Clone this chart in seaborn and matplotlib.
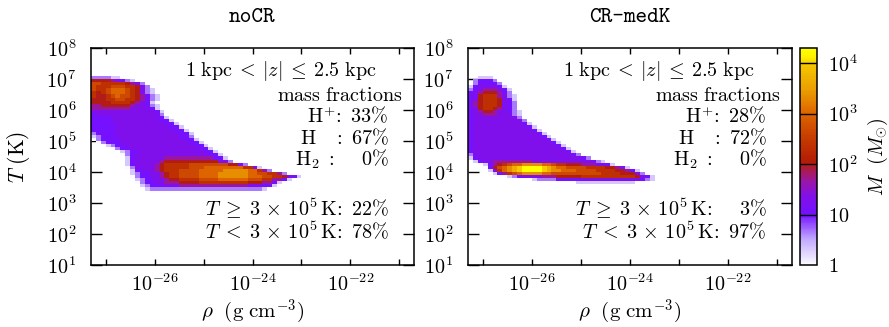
import numpy as np
import pandas as pd
import matplotlib
matplotlib.use("Agg")
import matplotlib.pyplot as plt
import seaborn as sns
from matplotlib.colors import LinearSegmentedColormap, LogNorm
from matplotlib.ticker import FixedLocator, FixedFormatter, NullLocator

# ---------------- data ----------------
# histogram bin centres: log10(rho / g cm^-3) (columns) and log10(T / K) (rows, top->bottom)
log_rho = np.round(np.arange(-27.25, -22.9, 0.1), 2)     # 44 columns
log_T = np.round(np.arange(7.05, 3.3, -0.1), 2)          # 38 rows

# mass per cell, one hex digit per cell: v -> M = 10**(v/3) Msun ; '.' = empty
noCR_levels = [
    "222211",
    "666654321",
    "88777776542",
    "877788877642",
    "8778999876421",
    "7678999876421",
    "76678988765321",
    "66677887765321",
    "6666777765431",
    "55666666544321",
    "55555555444431",
    "4444444444444" "3" "1",
    "3" "4444444444444" "2",
    "3333" "444444444" "33" "1",
    "3333" "4444444444" "33" "1",
    "33333" "4444444444" "33" "1",
    "33333" "44444444444" "33" "1",
    "33333" "444444444444" "33" "1",
    "2" "3333" "4444444444444" "33" "1",
    "1" "2" "333" "4444444444444" "33" "2",
    "0" "2" "3333" "4444444444444" "33" "1",
    "." "0" "2" "333" "44444444444444" "33" "1",
    "..." "1" "2" "33" "44444444444444" "33" "1",
    "...." "0" "2" "33" "44444444444444" "33" "1",
    "......" "1" "2" "33" "4444444444444" "33" "1",
    "......" "0" "2" "3" "444444444444444" "33" "1",
    "......." "1" "3" "444444" "5555555555" "33" "1",
    "......." "1" "3" "44444" "5" "66666666666" "44" "2",
    "......." "1" "3" "4444" "5" "6" "77777" "88888888" "66" "4" "2",
    "......." "0" "2" "4444" "5" "6" "77777" "888" "99999999" "77" "4" "1",
    "........" "1" "33" "44" "5" "6" "777" "8888" "99999" "aaaaa" "99" "7" "5" "2",
    "........" "1" "2" "33" "44" "5" "6" "77" "8888" "9999" "aaaaaa" "99" "88" "77" "5" "2",
    "........" "0" "2" "33" "44" "5" "6" "77" "8888" "9999" "aaaaaa" "999" "88" "77" "6" "4" "3" "1",
    "........." "1" "2" "33" "44" "5" "66" "7777" "8888" "999999" "888" "77" "55" "3" "1",
    "........." "0" "2" "33" "44" "555" "6666" "7777777777" "666" "55" "3" "1",
    ".........." "1" "2" "333" "444" "55555555555555" "444" "33" "1",
    "..........." "1" "22222222222222222222222" "1",
    "",
]
CRmedK_levels = [
    "..111",
    ".23332",
    ".233332",
    "13444431",
    "234555431",
    "345666532",
    "3467775421",
    "3467776431",
    "3567776432",
    "3567776432",
    "3467765432",
    "34566544321",
    "34455544421",
    "3" "444444444" "2",
    "3" "4444444444" "2",
    "3" "4444444444" "3" "1",
    "3" "44444444444" "3" "1",
    "3" "444444444444" "3" "1",
    "3" "4444444444444" "3" "1",
    "3" "44444444444444" "3" "1",
    "3" "444444444444444" "3" "1",
    "3" "4444444444444444" "3" "1",
    "3" "44444444444444444" "3" "1",
    "3" "444444444444444444" "3" "1",
    "3" "4444444444444444444" "3" "1",
    "2" "44444444444444444444" "3" "2",
    "1" "3" "444444444444444444444" "3" "2",
    ".13" "44" "55555555" "444444444444" "3" "2" "1",
    "..." "1" "3" "5" "6" "7" "8" "99" "aaaa" "99" "8" "77" "666" "555" "44" "3" "1",
    "..." "0" "3" "6" "8" "9" "a" "b" "c" "dddd" "c" "b" "a" "99" "8888" "7777" "66" "5" "3" "1",
    "...." "1" "4" "7" "9" "a" "b" "c" "dddd" "c" "b" "aa" "999" "8888" "7777" "66" "5" "3" "1",
    "....." "1" "3" "5" "7" "8" "9" "aaaa" "99" "8888" "888888" "7777" "666" "4" "2",
    "........" "1" "2" "3" "4444" "555" "66666" "7777777" "7777" "6" "4" "3" "1",
    "............." "1" "2222" "33333" "444444" "444444" "3" "2" "1",
    "......................" "111111111111",
    "",
    "",
    "",
]

titles = ["noCR", "CR-medK"]
ion_fracs = [[33, 67, 0], [28, 72, 0]]          # H+, H, H2 (%)
hot_fracs = [[22, 78], [3, 97]]                 # T>=3e5 K, T<3e5 K (%)

cbar_ticks = [1, 10, 100, 1000, 10000]
cbar_labels = [r"$1$", r"$10$", r"$10^{2}$", r"$10^{3}$", r"$10^{4}$"]
M_min, M_max = 1.0, 2.0e4

# ---------------- style ----------------
sns.set_theme(style="ticks")
plt.rcParams.update({
    "font.family": ["DejaVu Serif"],
    "mathtext.fontset": "cm",
    "font.size": 14,
    "axes.linewidth": 1.0,
    "axes.edgecolor": "black",
    "text.color": "black",
    "xtick.color": "black",
    "ytick.color": "black",
})

L = np.log10(M_max)
cmap = LinearSegmentedColormap.from_list("phase", [
    (0.0 / L, "#fcfaff"),
    (0.5 / L, "#c2aaff"),
    (1.0 / L, "#7410ff"),
    (1.35 / L, "#8010ea"),
    (1.65 / L, "#9a16a8"),
    (1.95 / L, "#b01c30"),
    (2.05 / L, "#b41c04"),
    (2.5 / L, "#c43a00"),
    (3.0 / L, "#de6400"),
    (3.5 / L, "#eba000"),
    (4.0 / L, "#f6c800"),
    (4.12 / L, "#fff000"),
    (1.0, "#ffff00"),
])

x_edges = np.append(log_rho - 0.05, log_rho[-1] + 0.05)
y_sorted = np.sort(log_T)
y_edges = np.append(y_sorted - 0.05, y_sorted[-1] + 0.05)


def to_frame(levels):
    recs = []
    for lt, row in zip(log_T, levels):
        row = row.ljust(len(log_rho), ".")
        for lr, ch in zip(log_rho, row):
            if ch != ".":
                recs.append((10.0 ** lr, 10.0 ** lt, 10.0 ** (int(ch, 16) / 3.0)))
    return pd.DataFrame(recs, columns=["rho", "T", "M"])


W, H = 889, 327
fig = plt.figure(figsize=(W / 100, H / 100), dpi=100)
ax_pos = [(91, 48, 414, 265), (468, 48, 792, 265)]
cax = fig.add_axes([800 / W, 1 - 265 / H, 17 / W, 217 / H])

mesh = None
for i, (levels, title) in enumerate(zip([noCR_levels, CRmedK_levels], titles)):
    x0, y0, x1, y1 = ax_pos[i]
    ax = fig.add_axes([x0 / W, 1 - y1 / H, (x1 - x0) / W, (y1 - y0) / H])
    df = to_frame(levels)
    sns.histplot(data=df, x="rho", y="T", weights="M", bins=[x_edges, y_edges],
                 log_scale=(True, True), cmap=cmap, ax=ax)
    mesh = ax.collections[0]
    mesh.set_norm(LogNorm(vmin=M_min, vmax=M_max))
    ax.set_xlim(10 ** -27.3, 10 ** -20.7)
    ax.set_ylim(1e1, 1e8)
    ax.set_xlabel("")
    ax.set_ylabel("")
    xt = list(range(-27, -20))
    ax.xaxis.set_major_locator(FixedLocator([10.0 ** k for k in xt]))
    ax.xaxis.set_major_formatter(FixedFormatter(
        [r"$10^{%d}$" % k if k % 2 == 0 else "" for k in xt]))
    yt = list(range(1, 9))
    ax.yaxis.set_major_locator(FixedLocator([10.0 ** k for k in yt]))
    ax.yaxis.set_major_formatter(FixedFormatter([r"$10^{%d}$" % k for k in yt]))
    ax.xaxis.set_minor_locator(NullLocator())
    ax.yaxis.set_minor_locator(NullLocator())
    ax.tick_params(axis="both", which="major", direction="in", top=True, right=True,
                   labelsize=14.5)
    ax.tick_params(axis="x", length=4.5, width=1.0, pad=6)
    ax.tick_params(axis="y", length=8.0, width=1.0, pad=10.5)
    for s in ax.spines.values():
        s.set_linewidth(1.1)
        s.set_color("black")

    fs = 14.5
    kw = dict(transform=ax.transAxes, ha="right", va="center", fontsize=fs)
    ax.text(0.885, 0.894, r"$1\ \mathrm{kpc}\:<\:|z|\:\leq\:2.5\ \mathrm{kpc}$", **kw)
    ax.text(0.963, 0.783, r"$\mathrm{mass\ fractions}$", **kw)
    hp, hn, h2 = ion_fracs[i]
    ax.text(0.922, 0.682, r"$\mathrm{H}^{+}\!:\ %d\%%$" % hp, **kw)
    ax.text(0.922, 0.585, r"$\mathrm{H}\ \ \ :\ %d\%%$" % hn, **kw)
    ax.text(0.922, 0.488, r"$\mathrm{H}_{2}\ :\ \ \ \ %d\%%$" % h2, **kw)
    hot, cold = hot_fracs[i]
    sp = r"\ \ \ \ " if hot < 10 else r"\ "
    ax.text(0.922, 0.258,
            r"$T\;\geq\;3\,\times\,10^{5}\,\mathrm{K}\!:%s%d\%%$" % (sp, hot), **kw)
    ax.text(0.922, 0.152,
            r"$T\;<\;3\,\times\,10^{5}\,\mathrm{K}\!:\ %d\%%$" % cold, **kw)

    xc = (x0 + x1) / 2
    fig.text(xc / W, 1 - 17 / H, title, family="cmtt10", fontsize=16,
             ha="center", va="center")
    fig.text(xc / W, 1 - 312 / H, r"$\rho\ \ (\mathrm{g\ cm}^{-3})$", fontsize=15,
             ha="center", va="center")

fig.text(18 / W, 1 - 157 / H, r"$T\ (\mathrm{K})$", rotation=90, fontsize=15.5,
         ha="center", va="center")

# colourbar styling
cb = fig.colorbar(mesh, cax=cax)
cb.set_ticks(cbar_ticks)
cb.set_ticklabels(cbar_labels)
cax.yaxis.set_minor_locator(NullLocator())
cax.tick_params(axis="y", which="both", length=0, pad=8, labelsize=14.5)
for v in cbar_ticks[1:]:
    cax.axhline(v, color="black", lw=1.0)
cb.outline.set_linewidth(1.1)
cb.outline.set_edgecolor("black")
fig.text(878 / W, 1 - 157 / H, r"$M\ \ (M_{\odot})$", rotation=90, fontsize=14.5,
         ha="center", va="center")

fig.savefig("out.png", dpi=100)
